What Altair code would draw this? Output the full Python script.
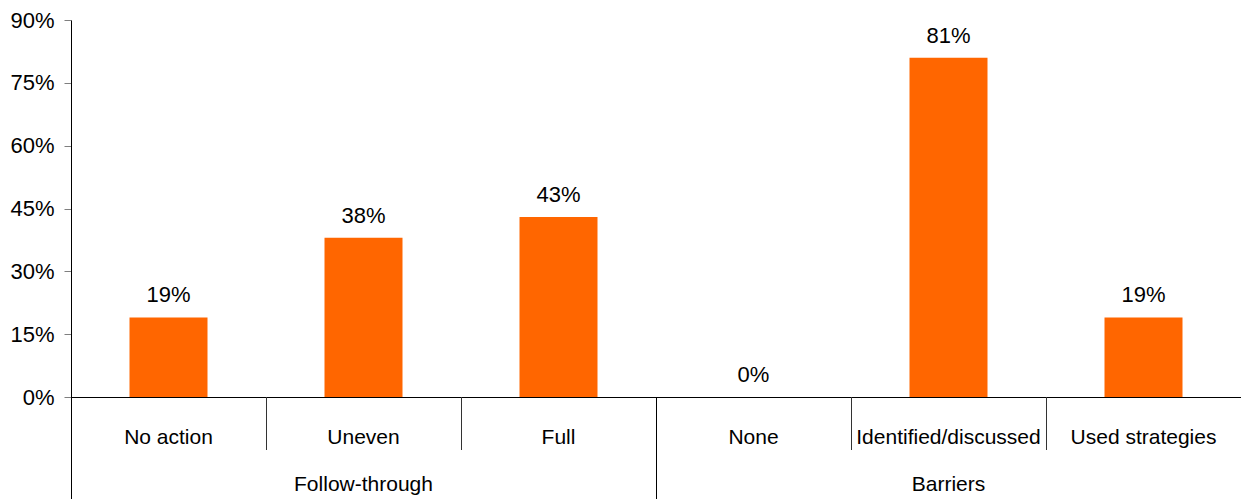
import altair as alt
import pandas as pd

# Survey results by category
categories = ["No action", "Uneven", "Full", "None", "Identified/discussed", "Used strategies"]
groups = ["Follow-through", "Follow-through", "Follow-through", "Barriers", "Barriers", "Barriers"]
values = [0.19, 0.38, 0.43, 0.00, 0.81, 0.19]

group_names = ["Follow-through", "Barriers"]
group_first = ["No action", "None"]
group_middle = ["Uneven", "Identified/discussed"]

df = pd.DataFrame({"category": categories, "group": groups, "value": values})
gdf = pd.DataFrame({"group": group_names, "first": group_first, "middle": group_middle})

FONT = "Liberation Sans"
PLOT_H = 377

x_scale = alt.Scale(domain=categories, paddingInner=0, paddingOuter=0)

x_enc = alt.X(
    "category:N",
    scale=x_scale,
    axis=alt.Axis(
        title=None,
        ticks=False,
        labelAngle=0,
        labelLimit=0,
        labelFont=FONT,
        labelFontSize=21,
        labelColor="black",
        labelBaseline="alphabetic",
        labelPadding=46,
        domainColor="black",
        domainWidth=1,
    ),
)

y_enc = alt.Y(
    "value:Q",
    scale=alt.Scale(domain=[0, 0.9]),
    axis=alt.Axis(
        title=None,
        values=[0, 0.15, 0.30, 0.45, 0.60, 0.75, 0.90],
        format=".0%",
        grid=False,
        tickSize=7,
        tickColor="#7f7f7f",
        domainColor="black",
        labelFont=FONT,
        labelFontSize=22,
        labelColor="black",
        labelPadding=10,
    ),
)

base = alt.Chart(df)

bars = base.mark_bar(color="#FF6600", width=alt.RelativeBandSize(0.4)).encode(x=x_enc, y=y_enc)

labels = base.mark_text(
    baseline="alphabetic", dy=-15, font=FONT, fontSize=22, color="black"
).encode(
    x=alt.X("category:N", scale=x_scale),
    y=alt.Y("value:Q"),
    text=alt.Text("value:Q", format=".0%"),
)

# short dividers between categories
dividers = base.mark_rule(color="#333333", strokeWidth=1, xOffset=0.5).encode(
    x=alt.X("category:N", scale=x_scale, bandPosition=0),
    y=alt.value(PLOT_H),
    y2=alt.value(PLOT_H + 53),
)

# long dividers at the start of each group
gbase = alt.Chart(gdf)
group_dividers = gbase.mark_rule(color="black", strokeWidth=1, xOffset=0.5).encode(
    x=alt.X("first:N", scale=x_scale, bandPosition=0),
    y=alt.value(PLOT_H),
    y2=alt.value(PLOT_H + 102),
)

group_labels = gbase.mark_text(
    baseline="alphabetic", font=FONT, fontSize=21, color="black"
).encode(
    x=alt.X("middle:N", scale=x_scale),
    y=alt.value(PLOT_H + 94),
    text="group:N",
)

chart = (
    alt.layer(bars, labels, dividers, group_dividers, group_labels)
    .properties(
        width=1170,
        height=PLOT_H,
        autosize=alt.AutoSizeParams(type="none"),
        padding={"left": 71, "top": 20, "right": 0, "bottom": 102},
    )
    .configure_view(stroke=None)
)

chart.save("out.html", embed_options={"renderer": "svg", "actions": False})
